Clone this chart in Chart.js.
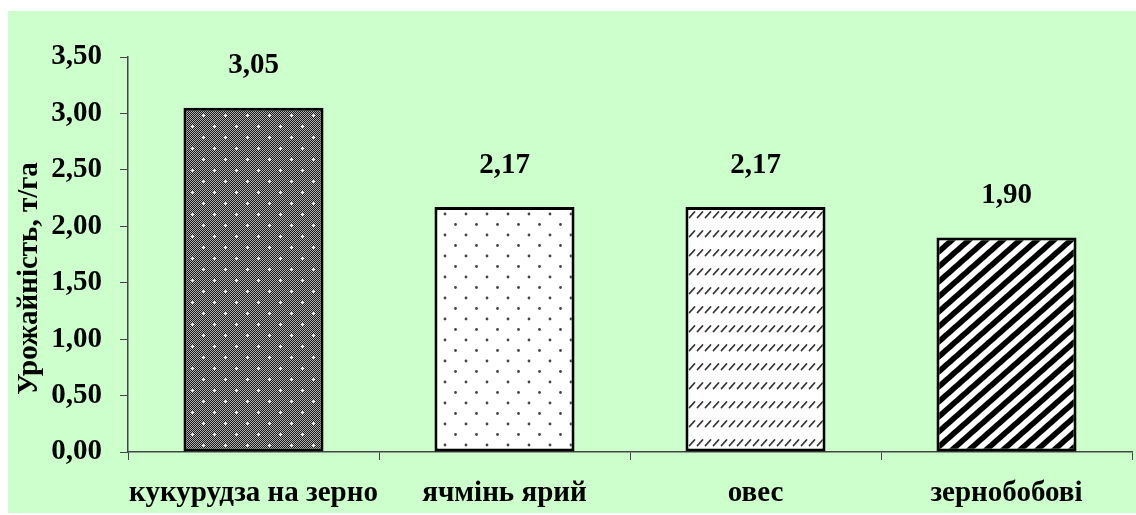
<!DOCTYPE html>
<html>
<head>
<meta charset="utf-8">
<script src="https://cdn.jsdelivr.net/npm/chart.js@4.4.1/dist/chart.umd.min.js"></script>
<style>
  html, body { margin: 0; padding: 0; background: #ffffff; }
  #wrap { width: 1136px; height: 515px; }
</style>
</head>
<body>
<div id="wrap"><canvas id="c" width="1136" height="515"></canvas></div>
<script>
// Crop yields, t/ha
const categories = ['кукурудза на зерно', 'ячмінь ярий', 'овес', 'зернобобові'];
const yields = [3.05, 2.17, 2.17, 1.90];
const yMin = 0;
const yMax = 3.5;
const yStep = 0.5;
const yTitle = 'Урожайність, т/га';

const FONT = "'Liberation Serif', 'Times New Roman', serif";
const SIZE = 29;
const fmt = v => v.toFixed(2).replace('.', ',');

function tile(w, h, paint) {
  const cv = document.createElement('canvas');
  cv.width = w; cv.height = h;
  const g = cv.getContext('2d');
  paint(g, w, h);
  return g.createPattern(cv, 'repeat');
}

function pixels(g, w, h, shade) {
  const img = g.createImageData(w, h);
  for (let y = 0; y < h; y++) for (let x = 0; x < w; x++) {
    const v = shade(x, y);
    const i = (y * w + x) * 4;
    img.data[i] = img.data[i + 1] = img.data[i + 2] = v; img.data[i + 3] = 255;
  }
  g.putImageData(img, 0, 0);
}

// dark checker with white crosses
const patGrid = tile(22, 22, (g, w, h) => {
  const cross = (x, y, cx, cy) => {
    const dx = Math.abs(x - cx), dy = Math.abs(y - cy);
    if (dx === 0 && dy === 0) return 255;
    if (dx + dy === 1) return 230;
    return -1;
  };
  pixels(g, w, h, (x, y) => {
    for (const [cx, cy] of [[5, 5], [16, 16]]) {
      const c = cross(x, y, cx, cy);
      if (c >= 0) return c;
    }
    return (x + y) % 2 ? 25 : 175;
  });
});

// sparse dots on white
const patDots = tile(21, 21, (g, w, h) => {
  g.fillStyle = '#fff'; g.fillRect(0, 0, w, h);
  g.fillStyle = '#444';
  [[4, 4], [14.5, 14.5]].forEach(([x, y]) => { g.beginPath(); g.arc(x, y, 1.4, 0, Math.PI * 2); g.fill(); });
});

// rows of short slashes
const patDash = tile(8, 19, (g, w, h) => {
  g.fillStyle = '#fff'; g.fillRect(0, 0, w, h);
  g.strokeStyle = '#333'; g.lineWidth = 1.8; g.lineCap = 'round';
  g.beginPath(); g.moveTo(1.5, 8.5); g.lineTo(6.5, 3); g.stroke();
});

// wide upward diagonal stripes, computed per pixel so the tile is seamless
const patStripe = tile(17, 15, (g, w, h) => {
  const period = 1 / Math.sqrt(1 / (w * w) + 1 / (h * h));
  const half = 2.8;
  pixels(g, w, h, (x, y) => {
    const t = ((x + 0.5) / w + (y + 0.5) / h) % 1;
    const d = Math.min(t, 1 - t) * period;
    const a = Math.max(0, Math.min(1, half + 0.5 - d));
    return Math.round(255 * (1 - a));
  });
});

const fills = [patGrid, patDots, patDash, patStripe];

const panel = {
  id: 'panel',
  beforeDraw(chart) {
    const ctx = chart.ctx;
    ctx.save();
    ctx.fillStyle = '#ffffff';
    ctx.fillRect(0, 0, chart.width, chart.height);
    ctx.fillStyle = '#CCFFCC';
    ctx.fillRect(8, 11, chart.width - 8, 502);
    ctx.restore();
  }
};

const texts = {
  id: 'texts',
  afterDatasetsDraw(chart) {
    const ctx = chart.ctx;
    const meta = chart.getDatasetMeta(0);
    ctx.save();
    ctx.font = 'bold ' + SIZE + 'px ' + FONT;
    ctx.fillStyle = '#000';
    ctx.textAlign = 'center';
    ctx.textBaseline = 'middle';
    meta.data.forEach((bar, i) => {
      ctx.fillText(fmt(yields[i]), bar.x, bar.y - 42);
    });
    // axis title
    const area = chart.chartArea;
    ctx.translate(30, (area.top + area.bottom) / 2 + 24);
    ctx.rotate(-Math.PI / 2);
    ctx.fillText(yTitle, 0, 0);
    ctx.restore();
  }
};

new Chart(document.getElementById('c'), {
  type: 'bar',
  data: {
    labels: categories,
    datasets: [{
      data: yields,
      backgroundColor: fills,
      borderColor: '#000',
      borderWidth: 3,
      borderSkipped: false,
      categoryPercentage: 1,
      barPercentage: 0.558
    }]
  },
  options: {
    responsive: false,
    animation: false,
    events: [],
    layout: { padding: { top: 57, right: 4, bottom: 0, left: 0 } },
    plugins: { legend: { display: false }, tooltip: { enabled: false } },
    scales: {
      x: {
        grid: { drawOnChartArea: false, drawTicks: true, tickLength: 8, tickColor: '#444', offset: true },
        border: { color: '#444', width: 1.5 },
        ticks: { color: '#000', font: { family: FONT, size: SIZE, weight: 'bold' }, padding: 16, maxRotation: 0, autoSkip: false },
        afterFit(s) { s.height = 63; }
      },
      y: {
        min: yMin, max: yMax,
        grid: { drawOnChartArea: false, drawTicks: true, tickLength: 8, tickColor: '#444' },
        border: { color: '#444', width: 1.5 },
        ticks: { stepSize: yStep, color: '#000', font: { family: FONT, size: SIZE, weight: 'bold' }, padding: 18, callback: v => fmt(v) },
        afterFit(s) { s.width = 128; }
      }
    }
  },
  plugins: [panel, texts]
});
</script>
</body>
</html>
